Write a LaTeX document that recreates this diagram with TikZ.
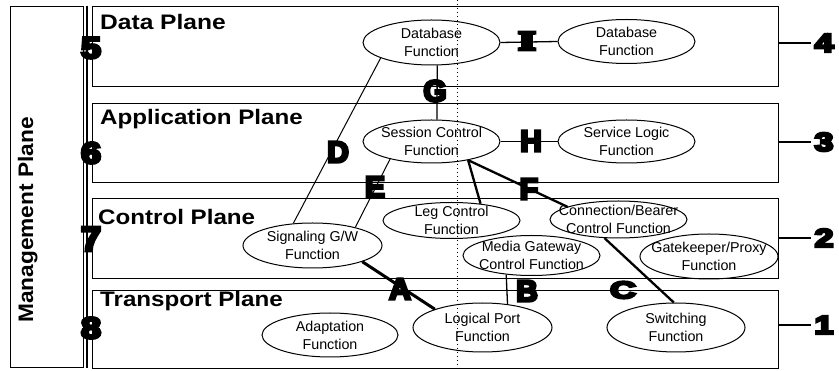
\documentclass[tikz,border=0pt]{standalone}
\usepackage{fontspec}
\usepackage{graphicx}
\usetikzlibrary{shapes.geometric}
\setmainfont{Liberation Sans}
% very heavy faces for the reference-point letters and plane numbers
\newfontfamily\heavyfont[BoldFeatures={FakeBold=9}]{Liberation Sans}
\newfontfamily\heavyserif[BoldFeatures={FakeBold=12}]{Liberation Serif}

\tikzset{
  plane/.style={draw, line width=1.1pt, minimum width=686pt, anchor=north west, inner sep=0pt},
  planetitle/.style={anchor=base west, inner sep=0pt, font=\fontsize{21}{21}\selectfont\bfseries},
  func/.style={ellipse, draw, line width=1pt, inner sep=0pt, minimum width=137pt},
  ftext/.style={align=center, inner sep=0pt, font=\fontsize{14.3}{18}\selectfont},
  refmark/.style={inner sep=0pt, font=\heavyfont\bfseries\fontsize{30}{30}\selectfont},
  sidenum/.style={inner sep=0pt, font=\heavyfont\bfseries\fontsize{26}{26}\selectfont},
  link/.style={line width=1.3pt},
  thinlink/.style={line width=1pt},
  thicklink/.style={line width=2.3pt},
  heavylink/.style={line width=3pt},
}

\begin{document}
\begin{tikzpicture}[x=1pt, y=-1pt]
\useasboundingbox (0,0) rectangle (839,371);

% management plane and the spine joining the planes
\node[draw, line width=1.1pt, minimum width=73pt, minimum height=361pt, anchor=north west, inner sep=0pt] (mgmt) at (10,6) {};
\node[rotate=90, anchor=base, inner sep=0pt, font=\fontsize{21}{21}\selectfont\bfseries] (mgmtlabel) at (33,220) {\scalebox{1.08}[1]{Management Plane}};
\coordinate (spinetop) at (87,6);
\coordinate (spinebot) at (87,368);
\draw[line width=1.1pt] (spinetop) -- (spinebot);

% the four planes
\node[plane, minimum height=80pt] (dataP) at (92,6) {};
\node[plane, minimum height=79pt] (appP) at (92,103) {};
\node[plane, minimum height=80pt] (ctrlP) at (92,198) {};
\node[plane, minimum height=78pt] (tranP) at (92,290) {};

\node[planetitle] (dataT) at (100,30) {\scalebox{1.17}[1]{Data Plane}};
\node[planetitle] (appT) at (100,125) {\scalebox{1.15}[1]{Application Plane}};
\node[planetitle] (ctrlT) at (98,225) {\scalebox{1.15}[1]{Control Plane}};
\node[planetitle] (tranT) at (100,307) {\scalebox{1.15}[1]{Transport Plane}};

% dotted divider
\coordinate (divtop) at (457,0);
\coordinate (divbot) at (457,371);
\draw[line width=1pt, dash pattern=on 1pt off 3pt] (divtop) -- (divbot);

% functions
\node[func, minimum height=45pt, label={[ftext]center:Database\\Function}] (db1) at (431.5,42.5) {};
\node[func, minimum height=44pt, label={[ftext]center:Database\\Function}] (db2) at (626.5,41.5) {};
\node[func, minimum height=43pt, label={[ftext]center:Session Control\\Function}] (sess) at (431.5,141.5) {};
\node[func, minimum height=43pt, label={[ftext]center:Service Logic\\Function}] (svc) at (626.5,141.5) {};
\node[func, minimum width=139pt, minimum height=45pt, label={[ftext]center:Signaling G/W\\Function}] (sig) at (312.5,245.5) {};
\node[func, minimum height=36pt, label={[ftext]center:Leg Control\\Function}] (leg) at (451.5,220.5) {};
\node[func, minimum height=37pt, label={[ftext]center:Connection/Bearer\\Control Function}] (conn) at (618.5,219.5) {};
\node[func, minimum height=40pt, label={[ftext]center:Media Gateway\\Control Function}] (mgc) at (531.5,255.5) {};
\node[func, minimum width=138pt, minimum height=45pt, label={[ftext]center:Gatekeeper/Proxy\\Function}] (gk) at (709,256.5) {};
\node[func, minimum width=136pt, minimum height=44pt, label={[ftext]center:Adaptation\\Function}] (adp) at (330,335) {};
\node[func, minimum width=139pt, minimum height=49pt, label={[ftext]center:Logical Port\\Function}] (lpf) at (482.5,327.5) {};
\node[func, minimum width=138pt, minimum height=49pt, label={[ftext]center:Switching\\Function}] (sw) at (676,327.5) {};

% reference points
\draw[thinlink] (db1.197) -- (sig.131);   % D
\draw[thinlink] (sess.203) -- (sig.23);   % E
\draw[thicklink] (sess.333) -- (leg.30);
\draw[thicklink] (sess.333) -- (conn.166); % F
\draw[thicklink] (conn.233) -- (sw.95);   % C
\draw[heavylink] (sig.342) -- (lpf.159);  % A
\draw[link] (mgc.217) -- (lpf.43);        % B
\draw[link] (db1.284) -- (sess.76);       % G
\draw[link] (db1.east) -- (db2.west);     % I
\draw[link] (sess.east) -- (svc.west);    % H

\node[refmark] (refA) at (400,289) {A};
\node[refmark] (refB) at (527,291) {B};
\node[refmark] (refC) at (623,290) {\scalebox{1.2}[0.8]{C}};
\node[refmark] (refD) at (338,152) {D};
\node[refmark] (refE) at (375,187) {E};
\node[refmark] (refF) at (529,189) {F};
\node[refmark] (refG) at (435,91) {G};
\node[refmark] (refH) at (531,141) {H};
\node[inner sep=0pt, font=\heavyserif\bfseries\fontsize{28}{28}\selectfont] (refI) at (527,41) {\scalebox{1.5}[0.95]{I}};

% plane numbers on the spine
\node[refmark] (n5) at (91,48) {\scalebox{1.2}[1]{5}};
\node[refmark] (n6) at (91,153) {\scalebox{1.2}[1]{6}};
\node[refmark] (n7) at (91,239) {\scalebox{1.2}[1.15]{7}};
\node[refmark] (n8) at (91,328) {\scalebox{1.2}[1]{8}};

% plane numbers on the right
\node[sidenum] (n4) at (824,43) {\scalebox{1.3}[1]{4}};
\node[sidenum] (n3) at (824,142) {\scalebox{1.3}[1]{3}};
\node[sidenum] (n2) at (824,238) {\scalebox{1.3}[1]{2}};
\node[sidenum] (n1) at (824,325) {\scalebox{1.3}[1]{1}};
\draw[thicklink, shorten >=3pt] (dataP.east |- n4) -- (n4.west);
\draw[thicklink, shorten >=3pt] (appP.east |- n3) -- (n3.west);
\draw[thicklink, shorten >=3pt] (ctrlP.east |- n2) -- (n2.west);
\draw[thicklink, shorten >=3pt] (tranP.east |- n1) -- (n1.west);
\end{tikzpicture}
\end{document}
